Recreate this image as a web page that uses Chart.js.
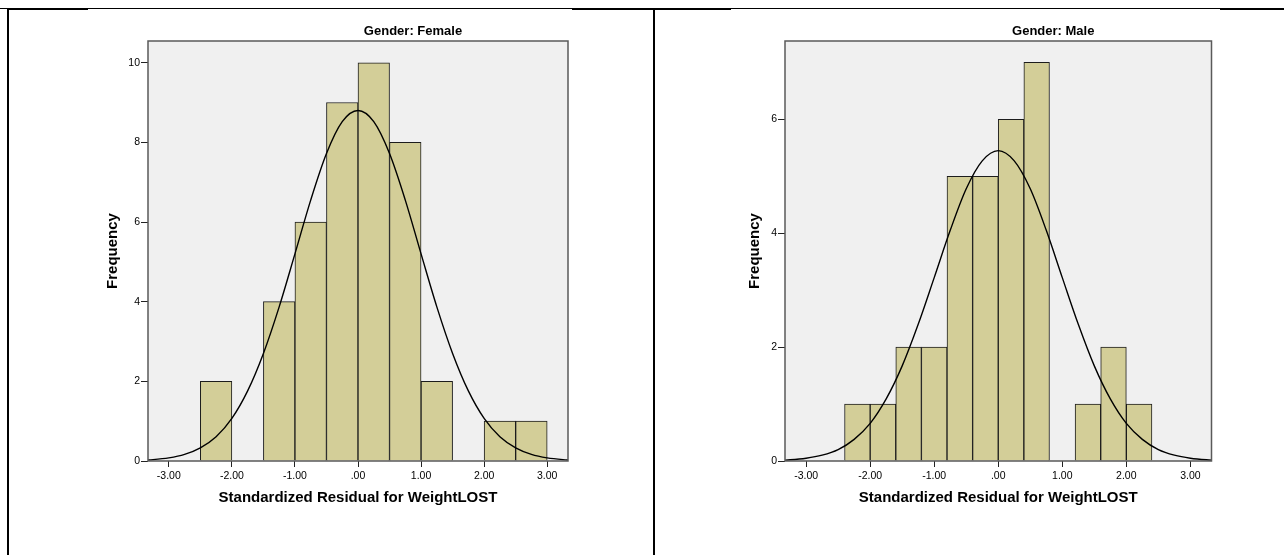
<!DOCTYPE html>
<html>
<head>
<meta charset="utf-8">
<script src="https://cdn.jsdelivr.net/npm/chart.js@4.4.1/dist/chart.umd.min.js"></script>
<style>
  html, body { margin: 0; padding: 0; background: #fff; width: 1284px; height: 555px; overflow: hidden; }
  body { position: relative; }
  .rule { position: absolute; background: #000; }
  .panel { position: absolute; top: 10px; height: 545px; }
</style>
</head>
<body>
<!-- table rules framing the two panels -->
<div class="rule" style="left:0;top:8px;width:1284px;height:1px"></div>
<div class="rule" style="left:7px;top:8px;width:81px;height:2px"></div>
<div class="rule" style="left:572px;top:8px;width:159px;height:2px"></div>
<div class="rule" style="left:1220px;top:8px;width:64px;height:2px"></div>
<div class="rule" style="left:7px;top:8px;width:2px;height:547px"></div>
<div class="rule" style="left:653px;top:8px;width:2px;height:547px"></div>

<canvas id="female" class="panel" style="left:9px" width="642" height="545"></canvas>
<canvas id="male" class="panel" style="left:655px" width="629" height="545"></canvas>

<script>
// Histogram bins: lower edge of each bin and its frequency
const femaleBinEdges = [-2.5, -2.0, -1.5, -1.0, -0.5, 0.0, 0.5, 1.0, 1.5, 2.0, 2.5];
const femaleCounts   = [2, 0, 4, 6, 9, 10, 8, 2, 0, 1, 1];
const femaleBinWidth = 0.5;

const maleBinEdges = [-2.4, -2.0, -1.6, -1.2, -0.8, -0.4, 0.0, 0.4, 0.8, 1.2, 1.6, 2.0];
const maleCounts   = [1, 1, 2, 2, 5, 5, 6, 7, 0, 1, 2, 1];
const maleBinWidth = 0.4;

// Normal curve overlay, sampled along the residual axis
const curveX = [-3.5, -3.25, -3.0, -2.75, -2.5, -2.25, -2.0, -1.75, -1.5, -1.25, -1.0, -0.75, -0.5, -0.25, 0,
                0.25, 0.5, 0.75, 1.0, 1.25, 1.5, 1.75, 2.0, 2.25, 2.5, 2.75, 3.0, 3.25, 3.5];
const femaleCurve = [0.014, 0.034, 0.077, 0.165, 0.33, 0.61, 1.07, 1.76, 2.70, 3.87, 5.20, 6.55, 7.72, 8.52, 8.80,
                     8.52, 7.72, 6.55, 5.20, 3.87, 2.70, 1.76, 1.07, 0.61, 0.33, 0.165, 0.077, 0.034, 0.014];
const maleCurve   = [0.009, 0.021, 0.048, 0.102, 0.20, 0.38, 0.66, 1.09, 1.67, 2.40, 3.22, 4.05, 4.78, 5.27, 5.45,
                     5.27, 4.78, 4.05, 3.22, 2.40, 1.67, 1.09, 0.66, 0.38, 0.20, 0.102, 0.048, 0.021, 0.009];

// Axis ticks
const xTickValues = [-3, -2, -1, 0, 1, 2, 3];
const xTickLabels = ['-3.00', '-2.00', '-1.00', '.00', '1.00', '2.00', '3.00'];
const femaleYTicks = [0, 2, 4, 6, 8, 10];
const maleYTicks   = [0, 2, 4, 6];

const FONT = '"Liberation Sans", Arial, Helvetica, sans-serif';

// Grey plot background with a frame around the chart area
const plotFrame = {
  id: 'plotFrame',
  beforeDatasetsDraw(chart) {
    const { ctx, chartArea: a } = chart;
    ctx.save();
    ctx.fillStyle = '#F0F0F0';
    ctx.fillRect(a.left, a.top, a.right - a.left, a.bottom - a.top);
    ctx.restore();
  },
  afterDatasetsDraw(chart) {
    const { ctx, chartArea: a } = chart;
    ctx.save();
    ctx.strokeStyle = '#5a5a5a';
    ctx.lineWidth = 1.5;
    ctx.strokeRect(a.left, a.top, a.right - a.left, a.bottom - a.top);
    ctx.restore();
  }
};

// Panel heading drawn above the plot
const panelTitle = {
  id: 'panelTitle',
  afterDraw(chart, args, opts) {
    const { ctx, chartArea: a } = chart;
    ctx.save();
    ctx.font = 'bold 13px ' + FONT;
    ctx.fillStyle = '#000';
    ctx.textAlign = 'center';
    ctx.textBaseline = 'alphabetic';
    ctx.fillText(opts.text, (a.left + a.right) / 2 + opts.offsetX, opts.baseline);
    ctx.restore();
  }
};

function binBars(edges, counts, width) {
  return edges.map((e, i) => ({ x: e + width / 2, y: counts[i] }));
}

function makePanel(id, cfg) {
  const curvePts = curveX.map((x, i) => ({ x, y: cfg.curve[i] }));
  return new Chart(document.getElementById(id), {
    type: 'bar',
    data: {
      datasets: [
        {
          type: 'line',
          data: curvePts,
          borderColor: '#000',
          borderWidth: 1.4,
          pointRadius: 0,
          fill: false,
          cubicInterpolationMode: 'monotone',
          order: 0
        },
        {
          type: 'bar',
          data: binBars(cfg.edges, cfg.counts, cfg.binWidth),
          backgroundColor: '#D3CE98',
          borderColor: '#1c1c1c',
          borderWidth: 1,
          barPercentage: 1,
          categoryPercentage: 1,
          order: 1
        }
      ]
    },
    options: {
      responsive: false,
      animation: false,
      events: [],
      layout: { padding: { left: 0, top: 31, right: cfg.padRight, bottom: 48 } },
      plugins: {
        legend: { display: false },
        tooltip: { enabled: false },
        title: { display: false },
        panelTitle: { text: cfg.title, offsetX: 55, baseline: 25 }
      },
      scales: {
        x: {
          type: 'linear',
          min: -3.33,
          max: 3.33,
          offset: false,
          grid: { display: true, drawOnChartArea: false, drawTicks: true, tickLength: 6, color: '#222', offset: false },
          border: { display: false },
          afterBuildTicks: (axis) => { axis.ticks = xTickValues.map(v => ({ value: v })); },
          ticks: {
            autoSkip: false,
            maxRotation: 0,
            padding: 3,
            color: '#000',
            font: { family: FONT, size: 10.5 },
            callback: (v) => xTickLabels[xTickValues.indexOf(v)]
          },
          title: {
            display: true,
            text: 'Standardized Residual for WeightLOST',
            color: '#000',
            font: { family: FONT, size: 15, weight: 'bold' },
            padding: { top: 0, bottom: 0 }
          },
          afterFit: (s) => { s.height = 46; }
        },
        y: {
          type: 'linear',
          min: 0,
          max: cfg.yMax,
          grid: { display: true, drawOnChartArea: false, drawTicks: true, tickLength: 7, color: '#222' },
          border: { display: false },
          afterBuildTicks: (axis) => { axis.ticks = cfg.yTicks.map(v => ({ value: v })); },
          ticks: {
            padding: 1,
            color: '#000',
            font: { family: FONT, size: 10.5 },
            callback: (v) => String(v)
          },
          title: {
            display: true,
            text: 'Frequency',
            color: '#000',
            font: { family: FONT, size: 15, weight: 'bold' },
            padding: { top: cfg.yTitlePad, bottom: 0 }
          },
          afterFit: (s) => { s.width = cfg.yWidth; }
        }
      }
    },
    plugins: [plotFrame, panelTitle]
  });
}

makePanel('female', {
  title: 'Gender: Female',
  edges: femaleBinEdges, counts: femaleCounts, binWidth: femaleBinWidth,
  curve: femaleCurve, yTicks: femaleYTicks, yMax: 10.545,
  yWidth: 139, yTitlePad: 94.5, padRight: 83
});

makePanel('male', {
  title: 'Gender: Male',
  edges: maleBinEdges, counts: maleCounts, binWidth: maleBinWidth,
  curve: maleCurve, yTicks: maleYTicks, yMax: 7.375,
  yWidth: 130, yTitlePad: 91, padRight: 72.5
});
</script>
</body>
</html>
